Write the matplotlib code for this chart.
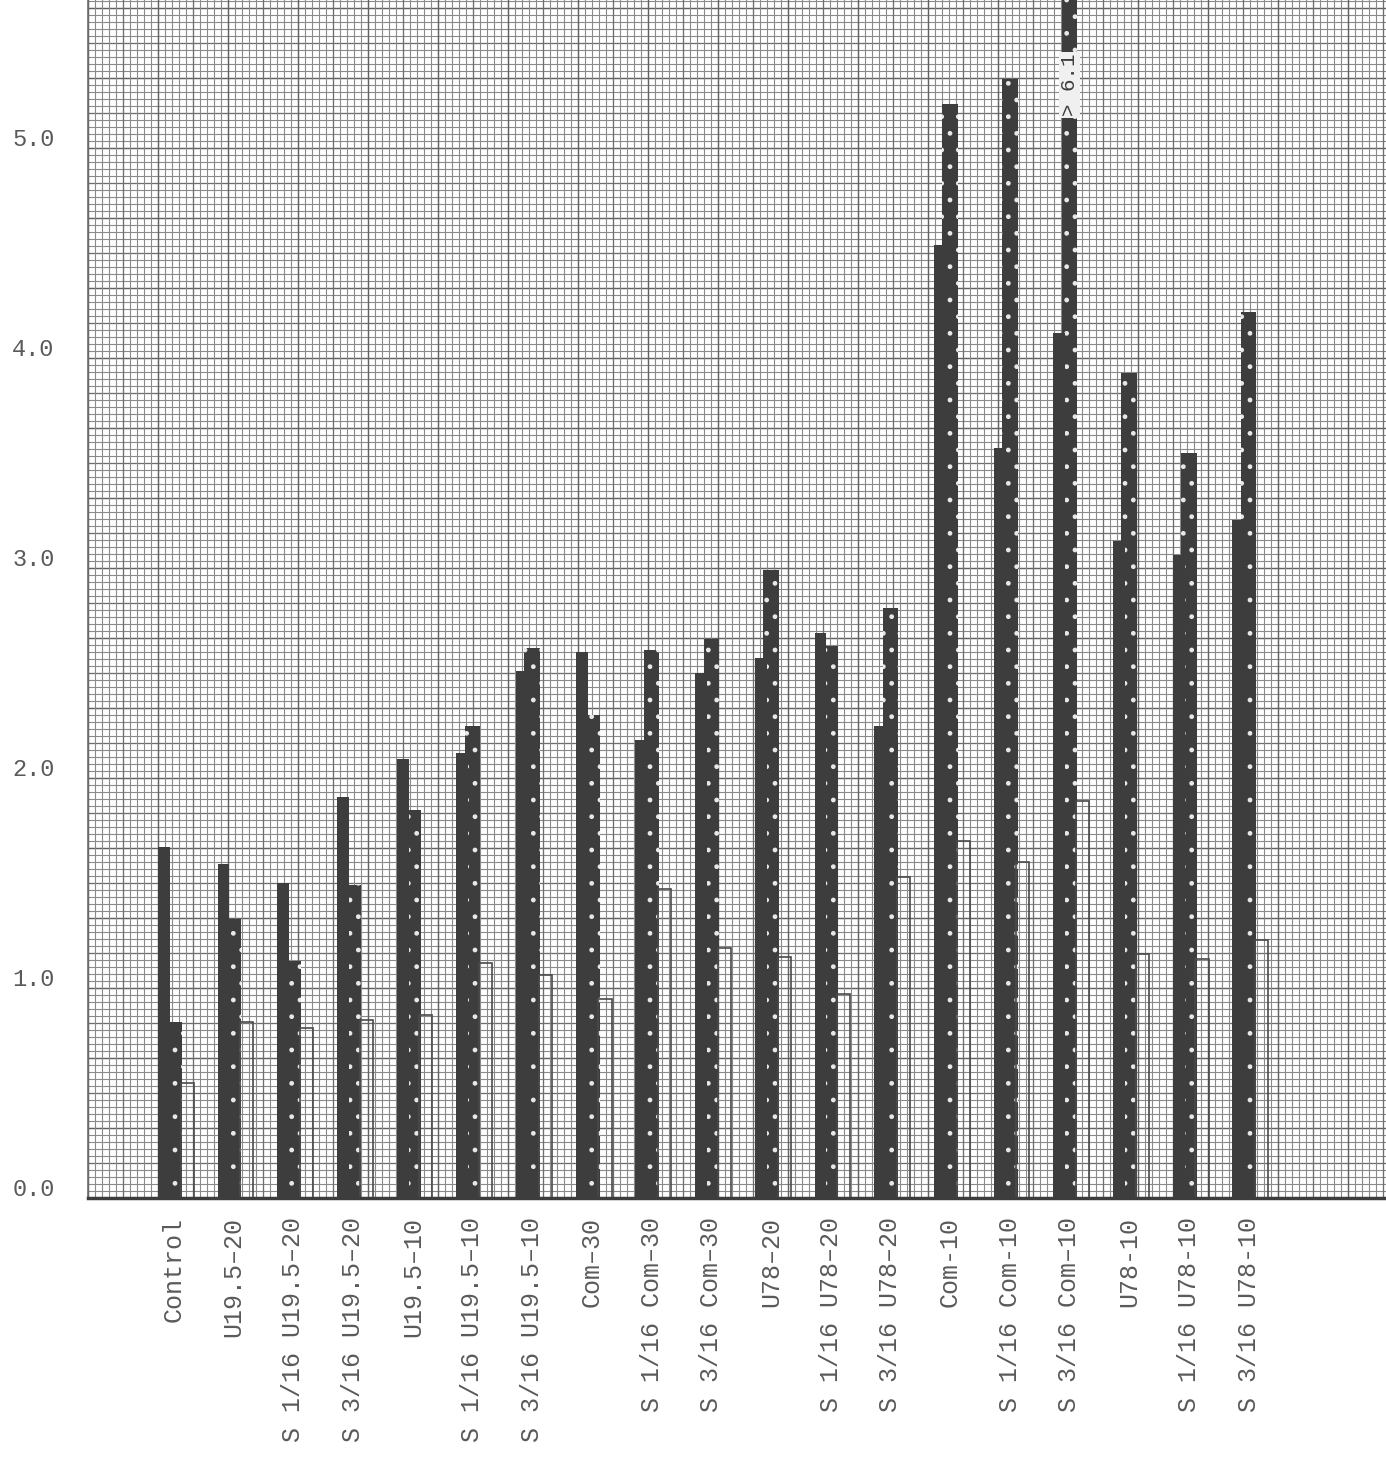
import matplotlib
matplotlib.use("Agg")
import matplotlib.pyplot as plt
import numpy as np
from matplotlib.transforms import ScaledTranslation

# ---- data -----------------------------------------------------------------
categories = [
    "Control", "U19.5–20", "S 1/16 U19.5–20", "S 3/16 U19.5–20",
    "U19.5–10", "S 1/16 U19.5–10", "S 3/16 U19.5–10",
    "Com–30", "S 1/16 Com–30", "S 3/16 Com–30",
    "U78–20", "S 1/16 U78–20", "S 3/16 U78–20",
    "Com-10", "S 1/16 Com-10", "S 3/16 Com–10",
    "U78-10", "S 1/16 U78-10", "S 3/16 U78-10",
]
solid = [1.67, 1.59, 1.50, 1.91, 2.09, 2.12, 2.51, 2.60, 2.18, 2.50,
         2.57, 2.69, 2.25, 4.54, 3.57, 4.12, 3.13, 3.06, 3.23]
dotted = [0.84, 1.33, 1.13, 1.49, 1.85, 2.25, 2.62, 2.30, 2.61, 2.66,
          2.99, 2.63, 2.81, 5.21, 5.33, 6.10, 3.93, 3.55, 4.22]
outline = [0.55, 0.84, 0.81, 0.85, 0.87, 1.12, 1.06, 0.95, 1.47, 1.19,
           1.15, 0.97, 1.53, 1.70, 1.60, 1.89, 1.16, 1.14, 1.23]
off_scale = {15: "> 6.1"}   # bar running past the top of the sheet
yticks = [0.0, 1.0, 2.0, 3.0, 4.0, 5.0]

# ---- style ----------------------------------------------------------------
INK = "#3d3d3d"
TEXT = "#5a5a5a"
FONT = ["Liberation Mono", "DejaVu Sans Mono"]

plt.rcParams.update({
    "font.family": FONT,
    "hatch.linewidth": 1.0,
})

W, H = 1386, 1463
fig = plt.figure(figsize=(W / 100, H / 100), dpi=100, facecolor="white")
ax = fig.add_axes([88 / W, 265 / H, (W - 88) / W, 1198 / H])

px_group = 59.7           # pixels between neighbouring groups
x = np.arange(len(categories))
xmin, xmax = -1.17, -1.17 + (W - 88) / px_group
ymax = 1198 / 210
ax.set_xlim(xmin, xmax)
ax.set_ylim(0, ymax)


def ruling(k):
    # fine every 1 mm, a little heavier every 5 and 10 mm
    if k % 10 == 0:
        return "#626262", 1.05
    if k % 5 == 0:
        return "#6e6e6e", 0.95
    return "#8a8a8a", 0.8


for k, yy in enumerate(np.arange(0, ymax, 1 / 30)):
    c, lw = ruling(k)
    ax.axhline(yy, color=c, lw=lw, zorder=0)
for k, xx in enumerate(np.arange(xmin, xmax, 7 / px_group)):
    c, lw = ruling(k)
    ax.axvline(xx, color=c, lw=lw, zorder=0)

# three overlapping bars per treatment
ax.bar(x + 0.14, dotted, 0.26, align="edge", color=INK, edgecolor="#e8e8e8",
       hatch=".", linewidth=0, zorder=2)
ax.bar(x, solid, 0.20, align="edge", color=INK, linewidth=0, zorder=3)
ax.bar(x + 0.38, outline, 0.22, align="edge", facecolor="none",
       edgecolor="#4a4a4a", linewidth=1.2, zorder=2)

for i, txt in off_scale.items():
    ax.text(i + 0.27, 5.30, txt, rotation=90, ha="center", va="center",
            fontsize=15, color=INK, zorder=4,
            bbox=dict(facecolor="#f0f0f0", edgecolor="none", pad=1.0))

# axes, ticks, labels
for side in ("top", "right"):
    ax.spines[side].set_visible(False)
ax.spines["left"].set_color("#6c6c6c")
ax.spines["left"].set_linewidth(1.2)
ax.spines["bottom"].set_color(INK)
ax.spines["bottom"].set_linewidth(2.5)

ax.set_yticks(yticks)
ax.set_yticklabels([f"{v:.1f}" for v in yticks], fontsize=17, color=TEXT)
ax.set_xticks(x + 0.27)
ax.set_xticklabels(categories, rotation=90, fontsize=18, color=TEXT)
ax.tick_params(length=0)
ax.tick_params(axis="y", pad=24)
ax.tick_params(axis="x", pad=14)
for lbl in ax.get_yticklabels():
    lbl.set_transform(lbl.get_transform() + ScaledTranslation(0, 0.11, fig.dpi_scale_trans))

fig.savefig("out.png", dpi=100, facecolor="white")
